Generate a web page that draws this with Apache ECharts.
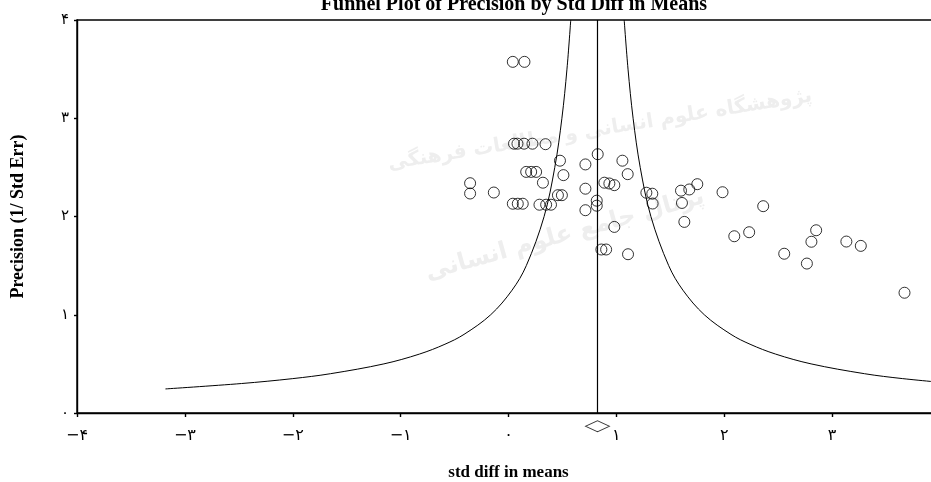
<!DOCTYPE html>
<html>
<head>
<meta charset="utf-8">
<script src="https://cdn.jsdelivr.net/npm/echarts@6/dist/echarts.min.js"></script>
<style>
html,body{margin:0;padding:0;background:#fff;}
#chart{width:931px;height:482px;}
</style>
</head>
<body>
<div id="chart"></div>
<script>
// ---- data ----
const titleText = 'Funnel Plot of Precision by Std Diff in Means';
const xAxisName = 'std diff in means';
const yAxisName = 'Precision (1/ Std Err)';
const xTickValues = [-4, -3, -2, -1, 0, 1, 2, 3, 4];
const xTickLabels = ['\u2212۴', '\u2212۳', '\u2212۲', '\u2212۱', '۰', '۱', '۲', '۳', '۴'];
const yTickValues = [0, 1, 2, 3, 4];
const yTickLabels = ['۰', '۱', '۲', '۳', '۴'];
const watermarkTop = 'پژوهشگاه علوم انسانی و مطالعات فرهنگی';
const watermarkBottom = 'پرتال جامع علوم انسانی';

// studies: [std diff in means, precision]
const studies = [
  [0.040, 3.574], [0.148, 3.574],
  [0.051, 2.741], [0.083, 2.741], [0.144, 2.741], [0.222, 2.741], [0.343, 2.736],
  [0.477, 2.568], [0.713, 2.530], [0.827, 2.634], [1.056, 2.568], [1.105, 2.431],
  [0.509, 2.421], [0.164, 2.454], [0.210, 2.454], [0.256, 2.454], [0.319, 2.344],
  [-0.356, 2.339], [-0.356, 2.234], [-0.136, 2.244],
  [0.713, 2.283], [0.889, 2.344], [0.935, 2.336], [0.981, 2.319],
  [0.458, 2.217], [0.495, 2.217],
  [1.278, 2.242], [1.333, 2.232], [1.336, 2.132],
  [1.599, 2.263], [1.676, 2.275], [1.750, 2.329], [1.608, 2.138], [1.630, 1.945],
  [0.040, 2.130], [0.086, 2.130], [0.132, 2.130],
  [0.287, 2.120], [0.349, 2.120], [0.394, 2.120],
  [0.818, 2.161], [0.818, 2.110], [0.713, 2.064],
  [0.981, 1.894], [0.861, 1.664], [0.905, 1.664], [1.108, 1.616],
  [1.984, 2.247], [2.361, 2.105], [2.093, 1.799], [2.231, 1.840],
  [2.556, 1.621], [2.766, 1.521], [2.808, 1.743], [2.852, 1.860],
  [3.132, 1.745], [3.266, 1.701], [3.671, 1.224]
];

const meanEffect = 0.825;

// funnel boundaries: [x, precision]
const funnelLeft = [
  [-3.18, 0.245], [-2.475, 0.30], [-2.00, 0.35], [-1.65, 0.40], [-1.155, 0.50],
  [-0.825, 0.60], [-0.589, 0.70], [-0.4125, 0.80], [-0.165, 1.00], [0.033, 1.25],
  [0.165, 1.50], [0.33, 2.00], [0.429, 2.50], [0.495, 3.00], [0.542, 3.50], [0.577, 4.00]
];
const funnelRight = [
  [4.125, 0.30], [3.654, 0.35], [3.30, 0.40], [2.805, 0.50],
  [2.475, 0.60], [2.239, 0.70], [2.0625, 0.80], [1.815, 1.00], [1.617, 1.25],
  [1.485, 1.50], [1.32, 2.00], [1.221, 2.50], [1.155, 3.00], [1.108, 3.50], [1.0725, 4.00]
];
const meanLine = [[meanEffect, 0], [meanEffect, 4]];
// summary diamond sits just below the x axis
const summaryDiamond = [[meanEffect, -0.135]];

// ---- chart ----
const serif = 'Liberation Serif';
const digitFont = 'DejaVu Sans';
const chart = echarts.init(document.getElementById('chart'), null, {renderer: 'canvas'});

function labelFor(values, labels) {
  return function (v) {
    const i = values.findIndex(t => Math.abs(t - v) < 1e-6);
    return i >= 0 ? labels[i] : '';
  };
}

chart.setOption({
  backgroundColor: '#ffffff',
  animation: false,
  title: {
    text: titleText,
    left: 509,
    textAlign: 'center',
    top: -10,
    textStyle: {fontFamily: serif, fontWeight: 'bold', fontSize: 20, color: '#000'}
  },
  graphic: [
    {
      type: 'text', x: 600, y: 130, rotation: 0.16, z: -10, silent: true,
      style: {text: watermarkTop, fill: '#eeeeee', font: 'bold 20px "DejaVu Sans"',
              textAlign: 'center', textVerticalAlign: 'middle'}
    },
    {
      type: 'text', x: 565, y: 235, rotation: 0.27, z: -10, silent: true,
      style: {text: watermarkBottom, fill: '#eeeeee', font: 'bold 24px "DejaVu Sans"',
              textAlign: 'center', textVerticalAlign: 'middle'}
    }
  ],
  grid: {
    left: 77, right: -9, top: 20, bottom: 69,
    containLabel: false, outerBoundsMode: 'none',
    show: true, borderColor: '#000', borderWidth: 1.4, backgroundColor: 'transparent'
  },
  xAxis: {
    type: 'value', min: -4, max: 4, interval: 1,
    name: xAxisName, nameLocation: 'middle', nameGap: 51,
    nameTextStyle: {fontFamily: serif, fontWeight: 'bold', fontSize: 17, color: '#000'},
    axisLine: {show: true, onZero: false, lineStyle: {color: '#000', width: 1.4}},
    axisTick: {show: true, length: 4, lineStyle: {color: '#000', width: 1.4}},
    axisLabel: {show: true, color: '#000', fontFamily: digitFont, fontSize: 16, margin: 15,
                formatter: labelFor(xTickValues, xTickLabels)},
    splitLine: {show: false}
  },
  yAxis: {
    type: 'value', min: 0, max: 4, interval: 1,
    name: yAxisName, nameLocation: 'middle', nameGap: 50, nameRotate: 90,
    nameTextStyle: {fontFamily: serif, fontWeight: 'bold', fontSize: 18, color: '#000'},
    axisLine: {show: true, onZero: false, lineStyle: {color: '#000', width: 1.4}},
    axisTick: {show: true, length: 3, lineStyle: {color: '#000', width: 1.4}},
    axisLabel: {show: true, color: '#000', fontFamily: digitFont, fontSize: 15, margin: 8,
                formatter: labelFor(yTickValues, yTickLabels)},
    splitLine: {show: false}
  },
  series: [
    {
      type: 'line', data: funnelLeft, smooth: 0.35, showSymbol: false, symbol: 'none',
      lineStyle: {color: '#000', width: 1}, silent: true, z: 3
    },
    {
      type: 'line', data: funnelRight, smooth: 0.35, showSymbol: false, symbol: 'none',
      lineStyle: {color: '#000', width: 1}, silent: true, z: 3
    },
    {
      type: 'line', data: meanLine, showSymbol: false, symbol: 'none',
      lineStyle: {color: '#000', width: 1.2}, silent: true, z: 3
    },
    {
      type: 'scatter', data: studies, symbol: 'circle', symbolSize: 11,
      itemStyle: {color: 'rgba(0,0,0,0)', borderColor: '#000', borderWidth: 1}, z: 4
    },
    {
      type: 'scatter', data: summaryDiamond, symbol: 'diamond', symbolSize: [24, 11],
      clip: false,
      itemStyle: {color: '#fff', borderColor: '#000', borderWidth: 1}, z: 5
    }
  ]
});
</script>
</body>
</html>
